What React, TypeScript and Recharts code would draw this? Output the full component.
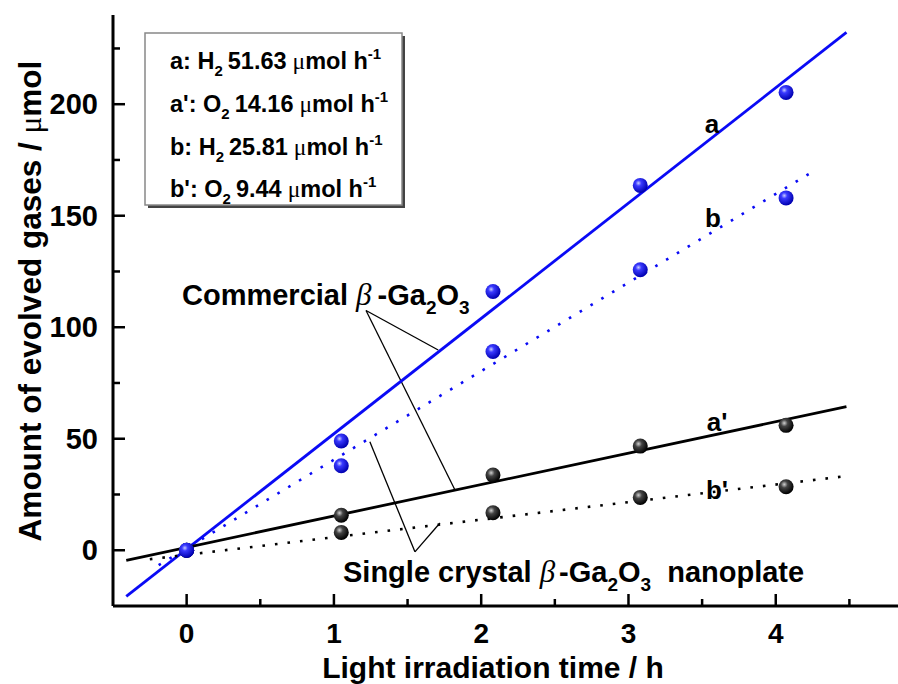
import React from 'react';
import {
  ComposedChart,
  Line,
  Scatter,
  XAxis,
  YAxis,
  ReferenceLine,
} from 'recharts';

const SANS = '"Liberation Sans", Arial, Helvetica, sans-serif';
const SERIF = '"Liberation Serif", "Times New Roman", serif';

// measured points, irradiation time in h
const timeH = [0, 1.05, 2.08, 3.08, 4.07];
const h2Commercial = [0, 49, 116, 163.6, 205.3]; // a
const h2Nanoplate = [0, 37.9, 89.1, 125.8, 158]; // b
const o2Commercial = [0, 15.7, 33.7, 46.7, 56]; // a'
const o2Nanoplate = [0, 8, 16.8, 23.7, 28.5]; // b'

// fitted lines, [time, amount] end points
const fitA = [[-0.41, -20.7], [4.48, 232.2]];
const fitB = [[-0.19, -6.7], [4.24, 169.3]];
const fitA2 = [[-0.41, -4.5], [4.48, 64.4]];
const fitB2 = [[-0.25, -4], [4.45, 33]];

// leader lines of the two sample labels
const commercialLeaders = [
  [[1.218, 107.5], [1.708, 89.8]],
  [[1.218, 107.5], [1.822, 27.0]],
];
const nanoplateLeaders = [
  [[1.55, -0.7], [1.244, 48.6]],
  [[1.55, -0.7], [1.72, 12.2]],
];

const xTicks = [0, 0.5, 1, 1.5, 2, 2.5, 3, 3.5, 4, 4.5];
const yTicks = [0, 25, 50, 75, 100, 125, 150, 175, 200, 225];

const toPts = (xs: number[], ys: number[]) => xs.map((x, i) => ({ x, y: ys[i] }));
const toLine = (pts: number[][]) => pts.map(([x, y]) => ({ x, y }));

const W = 898;
const H = 684;

const XTick = (props: any) => {
  const { x, y, payload } = props;
  const major = Number.isInteger(payload.value);
  return (
    <g>
      <line x1={x} x2={x} y1={y} y2={y - (major ? 12 : 7)} stroke="#000" strokeWidth={2.5} />
      {major && (
        <text x={x} y={y + 37} textAnchor="middle" fontFamily={SANS} fontWeight="bold" fontSize={28} fill="#000">
          {payload.value}
        </text>
      )}
    </g>
  );
};

const YTick = (props: any) => {
  const { x, y, payload } = props;
  const major = payload.value % 50 === 0;
  return (
    <g>
      <line x1={x} x2={x + (major ? 12 : 7)} y1={y} y2={y} stroke="#000" strokeWidth={2.5} />
      {major && (
        <text x={x - 15} y={y + 10} textAnchor="end" fontFamily={SANS} fontWeight="bold" fontSize={29} fill="#000">
          {payload.value}
        </text>
      )}
    </g>
  );
};

const sphere = (id: string) => (p: any) => (
  <circle cx={p.cx} cy={p.cy} r={7.5} fill={`url(#${id})`} />
);

// one line of the rate box
const RateLine = ({ y, tag, gas, rate }: { y: number; tag: string; gas: string; rate: string }) => (
  <text x={170} y={y}>
    {tag}: {gas}<tspan fontSize={15} dy={7}>2</tspan>
    <tspan dy={-7} dx={5}>{rate}</tspan>
    <tspan dx={6} fontFamily={SERIF} fontWeight="normal">μ</tspan>mol h<tspan fontSize={15} dy={-10}>-1</tspan>
  </text>
);

export default function App() {
  return (
    <div style={{ position: 'absolute', left: 0, top: 0, width: W, height: H, background: '#fff', overflow: 'hidden' }}>
      <ComposedChart width={W} height={H} margin={{ top: 15, right: 0, bottom: 0, left: 0 }}>
        <defs>
          <radialGradient id="sphereBlue" cx="38%" cy="35%" r="65%">
            <stop offset="0%" stopColor="#c8ccff" />
            <stop offset="30%" stopColor="#3a3aff" />
            <stop offset="100%" stopColor="#0000b0" />
          </radialGradient>
          <radialGradient id="sphereBlack" cx="38%" cy="35%" r="65%">
            <stop offset="0%" stopColor="#d0d0d0" />
            <stop offset="35%" stopColor="#444" />
            <stop offset="100%" stopColor="#000" />
          </radialGradient>
        </defs>
        <XAxis
          dataKey="x"
          type="number"
          domain={[-0.5, 4.83]}
          ticks={xTicks}
          interval={0}
          height={78}
          tickSize={0}
          tickMargin={0}
          tickLine={false}
          tick={<XTick />}
          axisLine={{ stroke: '#000', strokeWidth: 3 }}
          allowDataOverflow
        />
        <XAxis
          xAxisId="top"
          orientation="top"
          type="number"
          domain={[-0.5, 4.83]}
          height={0}
          tick={false}
          tickLine={false}
          axisLine={{ stroke: '#000', strokeWidth: 3 }}
        />
        <YAxis
          dataKey="y"
          type="number"
          domain={[-25, 240]}
          ticks={yTicks}
          interval={0}
          width={113}
          tickSize={0}
          tickMargin={0}
          tickLine={false}
          tick={<YTick />}
          axisLine={{ stroke: '#000', strokeWidth: 3 }}
          allowDataOverflow
        />

        {[...commercialLeaders, ...nanoplateLeaders].map((seg, i) => (
          <ReferenceLine
            key={i}
            segment={toLine(seg)}
            stroke="#000"
            strokeWidth={1.3}
            ifOverflow="visible"
          />
        ))}

        <Line data={toLine(fitA)} dataKey="y" stroke="#0a0af5" strokeWidth={2.8} dot={false} activeDot={false} isAnimationActive={false} />
        <Line data={toLine(fitB)} dataKey="y" stroke="#0a0af5" strokeWidth={2.6} strokeDasharray="2.6 10" dot={false} activeDot={false} isAnimationActive={false} />
        <Line data={toLine(fitA2)} dataKey="y" stroke="#000" strokeWidth={2.8} dot={false} activeDot={false} isAnimationActive={false} />
        <Line data={toLine(fitB2)} dataKey="y" stroke="#000" strokeWidth={2.6} strokeDasharray="2.6 10" dot={false} activeDot={false} isAnimationActive={false} />

        <Scatter data={toPts(timeH, o2Commercial)} shape={sphere('sphereBlack')} isAnimationActive={false} />
        <Scatter data={toPts(timeH, o2Nanoplate)} shape={sphere('sphereBlack')} isAnimationActive={false} />
        <Scatter data={toPts(timeH, h2Nanoplate)} shape={sphere('sphereBlue')} isAnimationActive={false} />
        <Scatter data={toPts(timeH, h2Commercial)} shape={sphere('sphereBlue')} isAnimationActive={false} />
      </ComposedChart>

      <svg width={W} height={H} style={{ position: 'absolute', left: 0, top: 0, pointerEvents: 'none' }}>
        <g fontFamily={SANS} fontWeight="bold" fill="#000">
          {/* rate box */}
          <rect x={148} y={36} width={257} height={172} fill="#444" />
          <rect x={145} y={33} width={257} height={172} fill="#fff" stroke="#888" strokeWidth={1.5} />
          <g fontSize={23.5}>
            <RateLine y={69} tag="a" gas="H" rate="51.63" />
            <RateLine y={112} tag="a'" gas="O" rate="14.16" />
            <RateLine y={155} tag="b" gas="H" rate="25.81" />
            <RateLine y={197} tag="b'" gas="O" rate="9.44" />
          </g>

          {/* line labels */}
          <g fontSize={26} textAnchor="middle">
            <text x={712} y={133}>a</text>
            <text x={713} y={227}>b</text>
            <text x={717} y={431}>a'</text>
            <text x={717} y={499}>b'</text>
          </g>

          {/* sample labels */}
          <text x={182} y={305} fontSize={29}>
            Commercial <tspan fontFamily={SERIF} fontStyle="italic" fontWeight="normal" fontSize={31}>β</tspan>
            <tspan dx={6}>-Ga</tspan>
            <tspan fontSize={19} dy={9}>2</tspan><tspan dy={-9}>O</tspan><tspan fontSize={19} dy={9}>3</tspan>
          </text>
          <text x={343} y={582} fontSize={29}>
            Single crystal <tspan fontFamily={SERIF} fontStyle="italic" fontWeight="normal" fontSize={31}>β</tspan>
            <tspan dx={4}>-Ga</tspan>
            <tspan fontSize={19} dy={9}>2</tspan><tspan dy={-9}>O</tspan><tspan fontSize={19} dy={9}>3</tspan>
            <tspan dy={-9} dx={16}>nanoplate</tspan>
          </text>

          {/* axis titles */}
          <text x={493} y={677.5} fontSize={30} textAnchor="middle">Light irradiation time / h</text>
          <text x={41} y={301} fontSize={31.5} textAnchor="middle" transform="rotate(-90 41 301)">
            Amount of evolved gases / <tspan fontFamily={SERIF} fontWeight="normal">μ</tspan>mol
          </text>
        </g>
      </svg>
    </div>
  );
}
